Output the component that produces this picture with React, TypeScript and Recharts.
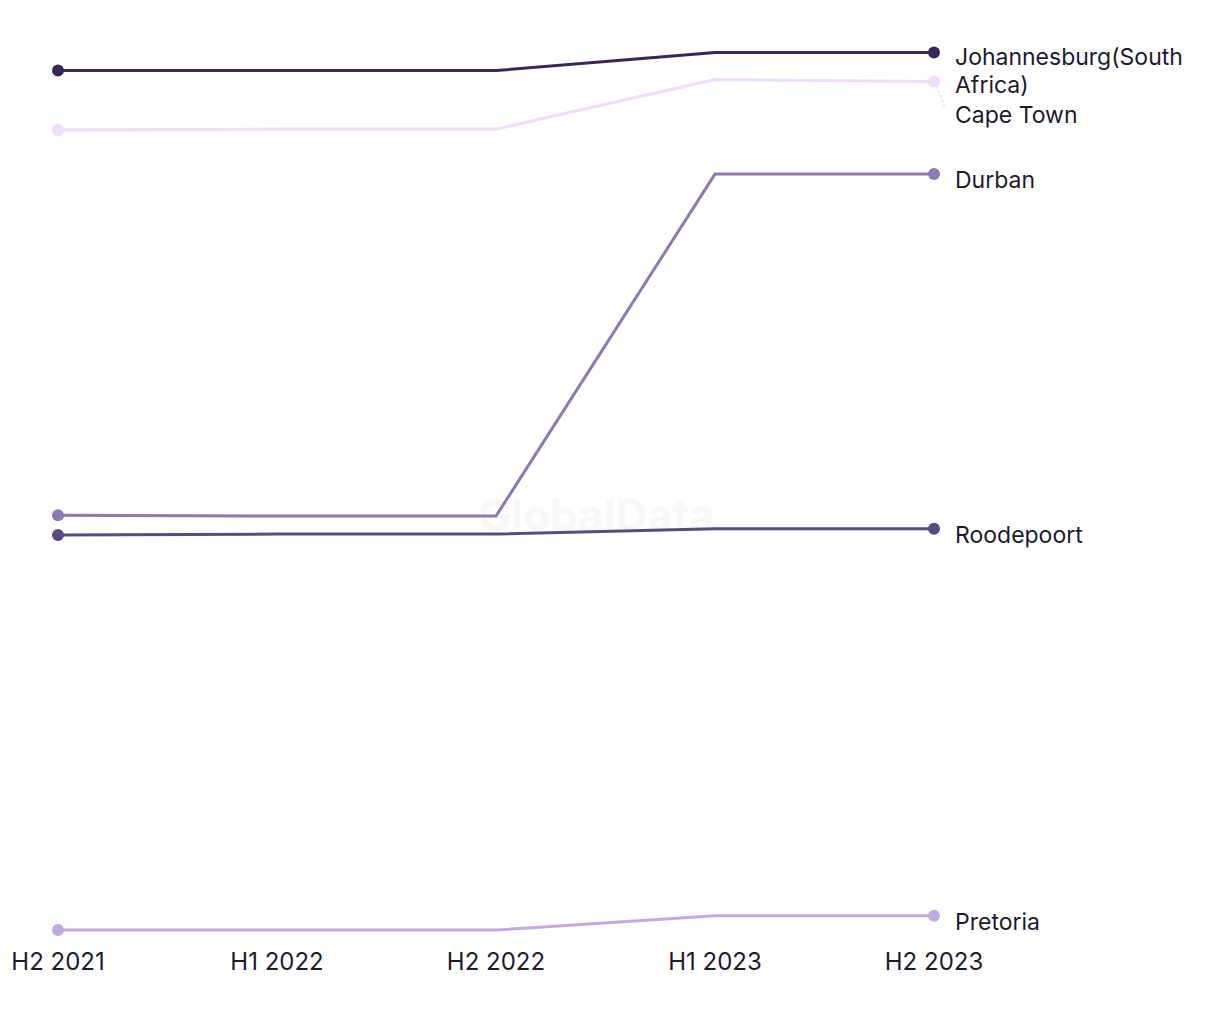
import React from "react";
import { LineChart, Line, XAxis, YAxis } from "recharts";

const periods = ["H2 2021", "H1 2022", "H2 2022", "H1 2023", "H2 2023"];

const johannesburg = [96.6, 96.6, 96.6, 98.6, 98.6];
const capeTown = [90.0, 90.1, 90.1, 95.6, 95.4];
const durban = [47.2, 47.1, 47.1, 85.1, 85.1];
const roodepoort = [45.0, 45.1, 45.1, 45.7, 45.7];
const pretoria = [1.1, 1.1, 1.1, 2.7, 2.7];

const series = [
  { key: "johannesburg", name: ["Johannesburg(South", "Africa)"], values: johannesburg, color: "#3b2658", shift: -2 },
  { key: "capeTown", name: ["Cape Town"], values: capeTown, color: "#f2dcfb", shift: 28 },
  { key: "durban", name: ["Durban"], values: durban, color: "#8f79b5", shift: 0 },
  { key: "roodepoort", name: ["Roodepoort"], values: roodepoort, color: "#5b4a80", shift: 0 },
  { key: "pretoria", name: ["Pretoria"], values: pretoria, color: "#c3a8e4", shift: 0 },
];

const data = periods.map((p, i) => {
  const row: Record<string, any> = { period: p };
  series.forEach((s) => {
    row[s.key] = s.values[i];
  });
  return row;
});

const FONT = "Inter, 'Liberation Sans', sans-serif";
const last = periods.length - 1;

const makeDot = (color: string) => (props: any) => {
  const { cx, cy, index } = props;
  if (index !== 0 && index !== last) return <g key={`d-${index}`} />;
  return <circle key={`d-${index}`} cx={cx} cy={cy} r={6} fill={color} />;
};

const makeLabel = (s: (typeof series)[number]) => (props: any) => {
  const { x, y, index } = props;
  if (index !== last) return <g key={`l-${index}`} />;
  const ty = y + 8 + s.shift;
  return (
    <g key={`l-${index}`}>
      {s.shift > 10 && (
        <line x1={x + 3} y1={y + 4} x2={x + 11} y2={ty - 9} stroke={s.color} strokeWidth={1.5} strokeDasharray="3 2" />
      )}
      <text x={x + 21} y={ty} fill="#1d1a2e" fontSize={23} fontFamily={FONT} dominantBaseline="middle">
        {s.name.map((ln, i) => (
          <tspan key={i} x={x + 21} dy={i === 0 ? 0 : 28}>
            {ln}
          </tspan>
        ))}
      </text>
    </g>
  );
};

export default function App() {
  return (
    <div style={{ width: 1200, height: 1000, position: "relative" }}>
      <div
        style={{
          position: "absolute",
          left: 470,
          top: 480,
          fontFamily: FONT,
          fontWeight: 700,
          fontSize: 44,
          color: "#f8f8f8",
          pointerEvents: "none",
        }}
      >
        GlobalData
      </div>
      <LineChart
        width={1200}
        height={1000}
        data={data}
        margin={{ top: 32, right: 274, bottom: 38, left: 50 }}
        style={{ position: "relative" }}
      >
        <XAxis
          dataKey="period"
          axisLine={false}
          tickLine={false}
          height={30}
          interval={0}
          tick={{ fill: "#1d1a2e", fontSize: 24, fontFamily: FONT }}
          tickMargin={7}
        />
        <YAxis hide domain={[0, 100]} />
        {series.map((s) => (
          <Line
            key={s.key}
            dataKey={s.key}
            type="linear"
            stroke={s.color}
            strokeWidth={3}
            dot={makeDot(s.color)}
            activeDot={false}
            label={makeLabel(s)}
            isAnimationActive={false}
          />
        ))}
      </LineChart>
    </div>
  );
}
